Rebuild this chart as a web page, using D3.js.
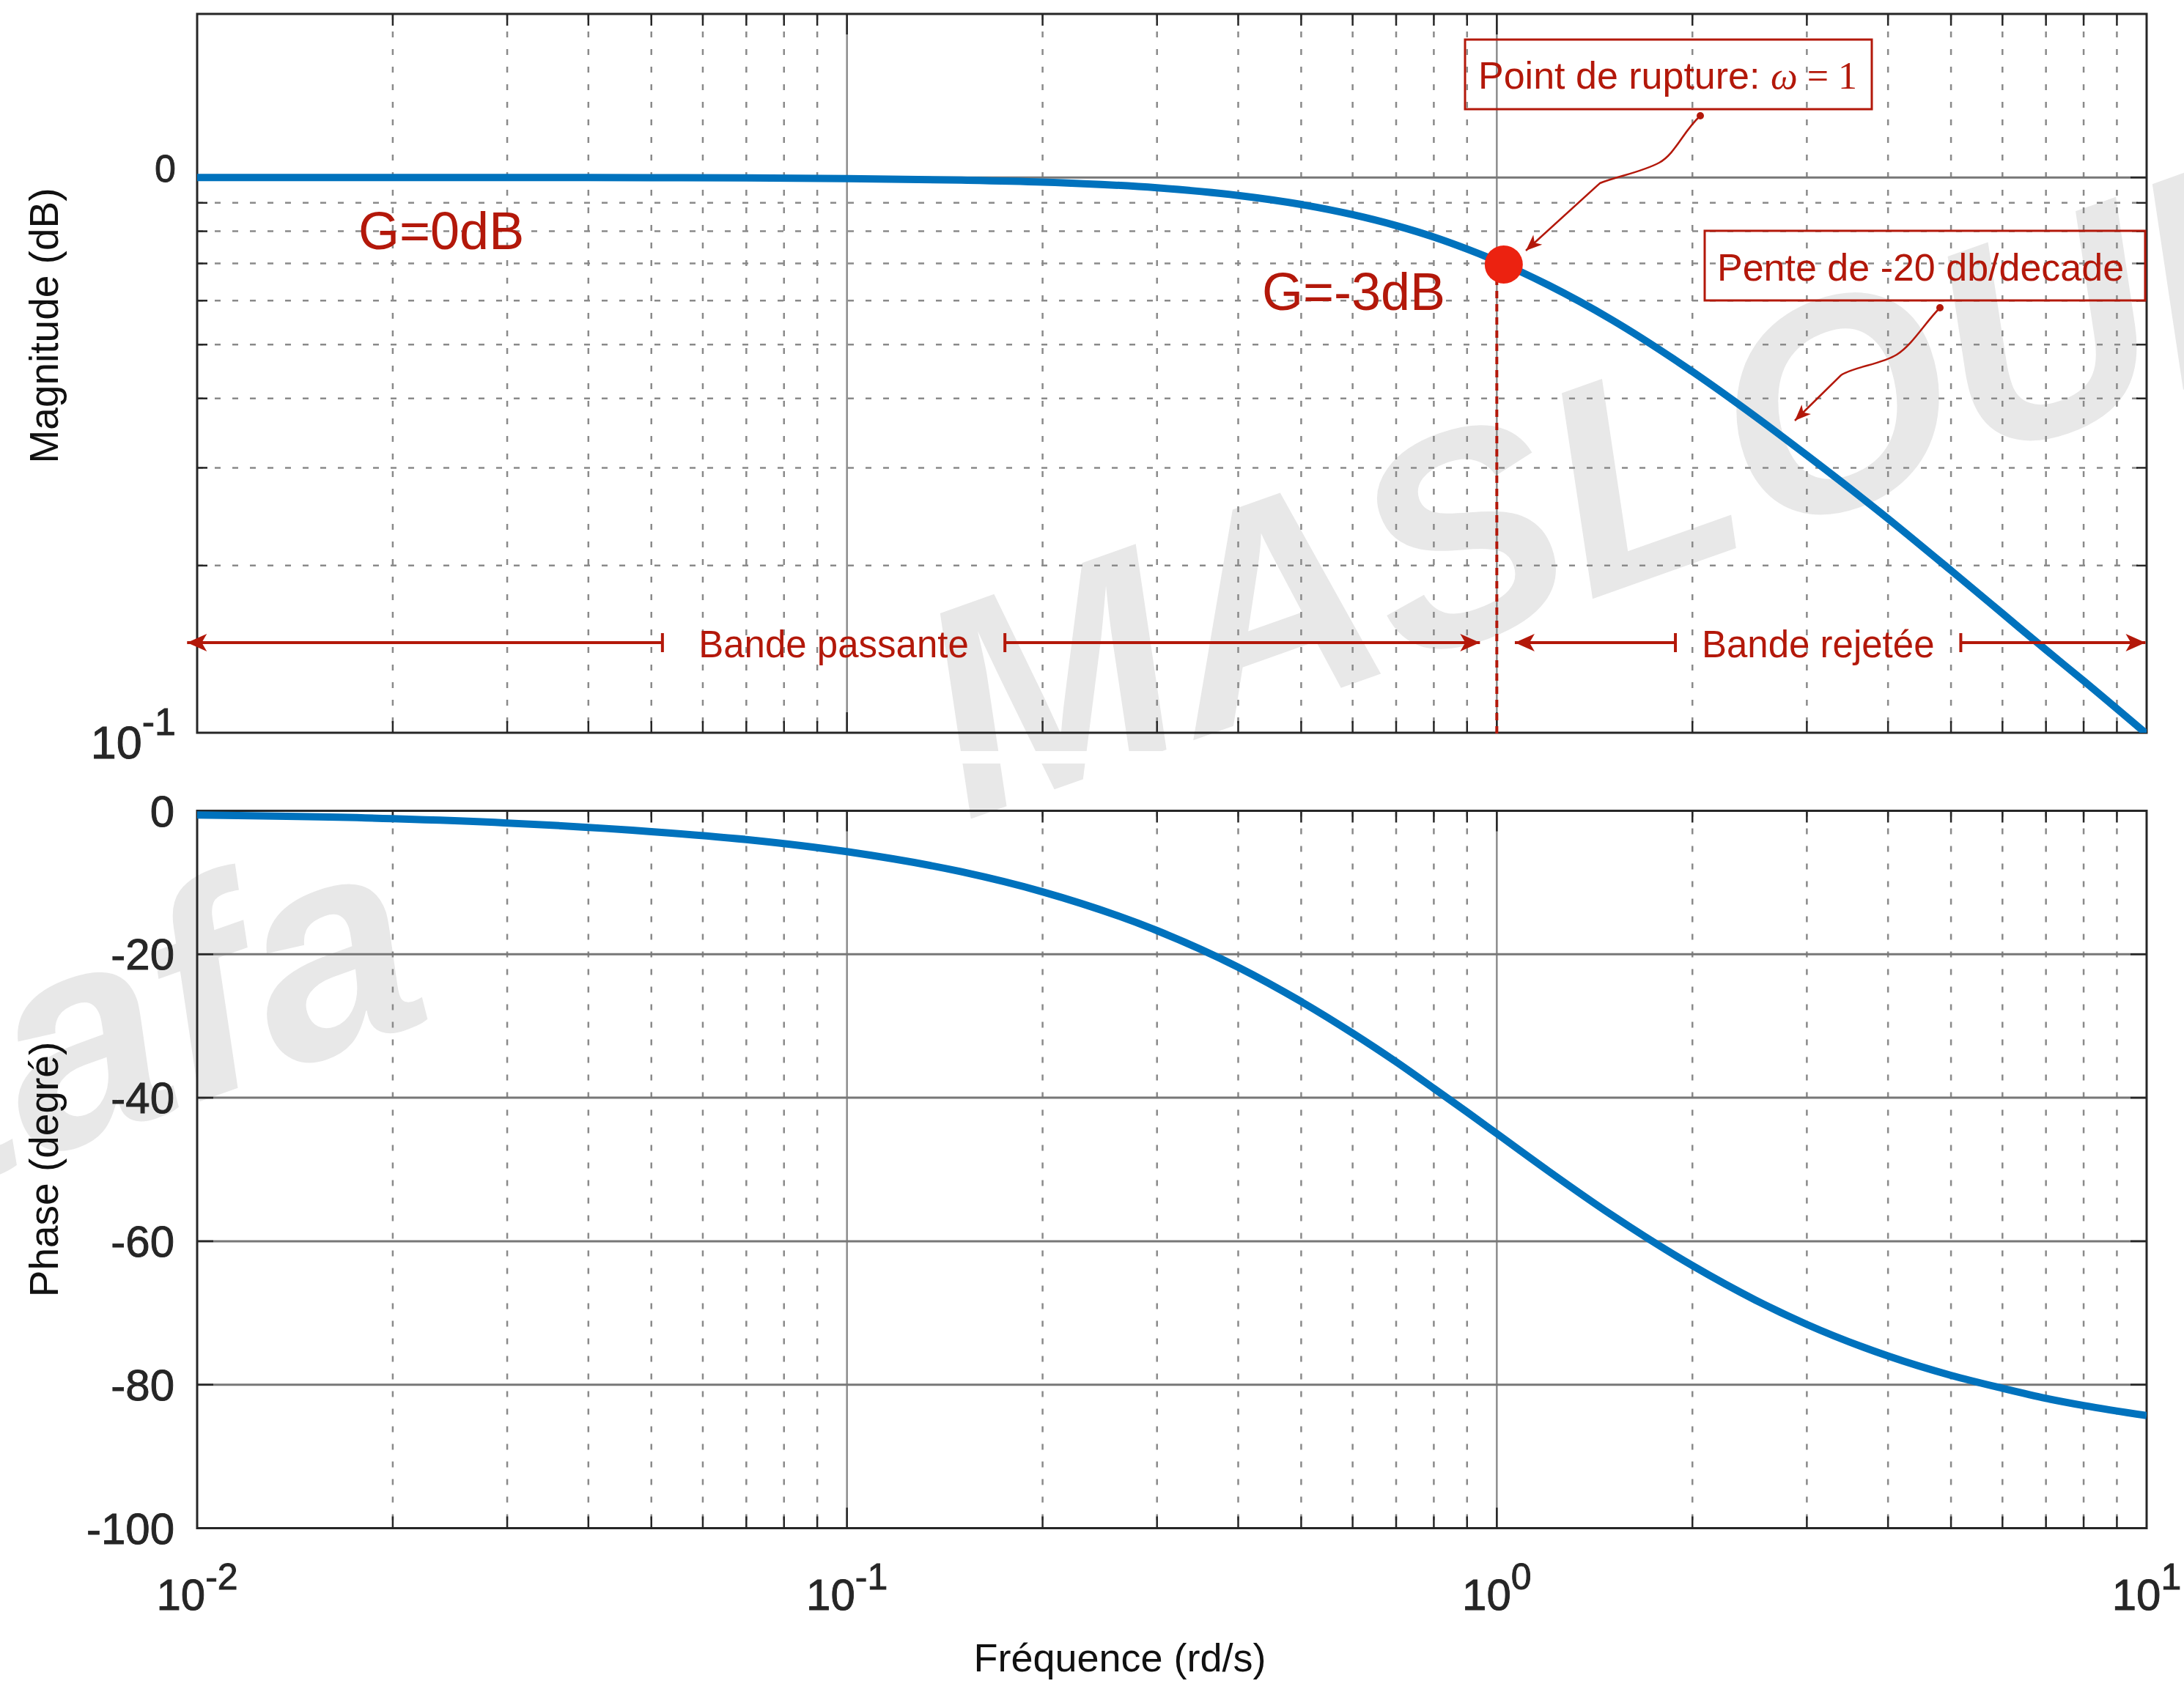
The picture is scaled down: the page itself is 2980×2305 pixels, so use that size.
<!DOCTYPE html>
<html>
<head>
<meta charset="utf-8">
<script src="https://cdn.jsdelivr.net/npm/d3@7"></script>
<style>
  html, body { margin: 0; padding: 0; background: #fff; }
  svg { display: block; }
</style>
</head>
<body>
<script>
'use strict';

// frequencies where the curves were read (rd/s)
const freq = [0.01, 0.02, 0.03, 0.05, 0.07, 0.1, 0.15, 0.2, 0.3, 0.4, 0.5, 0.6, 0.7, 0.8, 0.9,
  1, 1.2, 1.5, 2, 2.5, 3, 4, 5, 6, 7, 8, 10];
// magnitude read on the log axis of the top plot
const magnitude = [1.0, 1.0, 1.0, 0.999, 0.998, 0.995, 0.989, 0.981, 0.958, 0.928, 0.894, 0.857, 0.819, 0.781, 0.743,
  0.707, 0.640, 0.555, 0.447, 0.371, 0.316, 0.243, 0.196, 0.164, 0.141, 0.124, 0.0995];
// phase in degrees (bottom plot)
const phase = [-0.6, -1.1, -1.7, -2.9, -4.0, -5.7, -8.5, -11.3, -16.7, -21.8, -26.6, -31.0, -35.0, -38.7, -42.0,
  -45.0, -50.2, -56.3, -63.4, -68.2, -71.6, -76.0, -78.7, -80.5, -81.9, -82.9, -84.3];

const xTickValues = [0.01, 0.1, 1, 10];
const xTickExponents = ["-2", "-1", "0", "1"];
const magTickValues = [1, 0.1];
const magTickBase = ["0", "10"];
const magTickExponents = ["", "-1"];
const phaseTickValues = [0, -20, -40, -60, -80, -100];

// break point (dot) and the two bands, in frequency units
const breakPoint = { f: 1.025, mag: 0.697 };
const bandMag = 0.1453;
const bandPass = [0.00965, 0.052, 0.175, 0.942];
const bandReject = [1.066, 1.883, 5.176, 9.96];

const W = 2980, H = 2305;
const red = "#b3180a";
const blue = "#0072bd";
const axisColor = "#262626";

const plotLeft = 269, plotRight = 2929;
const magTop = 19, magBottom = 1000;
const phTop = 1106.5, phBottom = 2085.5;

const svg = d3.select('body').append('svg')
  .attr('width', W)
  .attr('height', H)
  .style('font-family', '"Liberation Sans", Arial, Helvetica, sans-serif');

svg.append('rect').attr('width', W).attr('height', H).attr('fill', '#fff');

// scales
const x = d3.scaleLog().domain([0.01, 10]).range([plotLeft, plotRight]);
const yMag = d3.scaleLog().domain([0.1, 1.97]).range([magBottom, magTop]);
const yPh = d3.scaleLinear().domain([-100, 0]).range([phBottom, phTop]);

// arrow markers
const defs = svg.append('defs');
defs.append('marker')
  .attr('id', 'bandHead')
  .attr('markerUnits', 'userSpaceOnUse')
  .attr('viewBox', '-30 -15 32 30')
  .attr('refX', 0).attr('refY', 0)
  .attr('markerWidth', 32).attr('markerHeight', 30)
  .attr('orient', 'auto')
  .append('path')
  .attr('d', 'M0,0 L-27,-12 L-20,0 L-27,12 Z')
  .attr('fill', red);
defs.append('marker')
  .attr('id', 'calloutHead')
  .attr('markerUnits', 'userSpaceOnUse')
  .attr('viewBox', '-26 -12 28 24')
  .attr('refX', 0).attr('refY', 0)
  .attr('markerWidth', 28).attr('markerHeight', 24)
  .attr('orient', 'auto')
  .append('path')
  .attr('d', 'M0,0 L-22,-9 L-16,0 L-22,9 Z')
  .attr('fill', red);

['magClip', 'phClip'].forEach((id, i) => {
  defs.append('clipPath').attr('id', id)
    .append('rect')
    .attr('x', plotLeft).attr('width', plotRight - plotLeft)
    .attr('y', i === 0 ? magTop : phTop)
    .attr('height', i === 0 ? magBottom - magTop : phBottom - phTop);
});

// watermark, under everything else
const wm = svg.append('g')
  .attr('fill', '#e8e8e8')
  .style('font-weight', 'bold')
  .style('font-style', 'italic')
  .style('font-size', '405px');
wm.append('text')
  .attr('transform', 'translate(1318,1120) rotate(-19.5)')
  .text('MASLOUI');
wm.append('text')
  .attr('transform', 'translate(598,1388) rotate(-19.5)')
  .attr('text-anchor', 'end')
  .text('Mustafa');
// thin white cut between the two axes
svg.append('rect').attr('x', 0).attr('y', 1025).attr('width', W).attr('height', 17).attr('fill', '#fff');

function isDecade(v) {
  return Math.abs(Math.log10(v) - Math.round(Math.log10(v))) < 1e-6;
}

// grid, box and ticks for one axes
function drawFrame(top, bottom, yScale, yGrid, logY) {
  const g = svg.append('g');
  const xt = x.ticks().filter(v => v > 0.0100001 && v < 9.99999);

  // vertical grid
  xt.forEach(v => {
    const major = isDecade(v);
    g.append('line')
      .attr('x1', x(v)).attr('x2', x(v))
      .attr('y1', top).attr('y2', bottom)
      .attr('stroke', major ? '#8c8c8c' : '#8a8a8a')
      .attr('stroke-width', 2.5)
      .attr('stroke-dasharray', major ? null : '8,16');
  });

  // horizontal grid
  yGrid.forEach(v => {
    const major = logY ? isDecade(v) : true;
    if (yScale(v) <= top + 0.5 || yScale(v) >= bottom - 0.5) return;
    g.append('line')
      .attr('x1', plotLeft).attr('x2', plotRight)
      .attr('y1', yScale(v)).attr('y2', yScale(v))
      .attr('stroke', major ? '#777' : '#8a8a8a')
      .attr('stroke-width', major ? 3 : 2.5)
      .attr('stroke-dasharray', major ? null : '8,16');
  });

  // ticks on the four sides, pointing inward
  xt.forEach(v => {
    const len = isDecade(v) ? 28 : 16;
    [[bottom, bottom - len], [top, top + len]].forEach(p => {
      g.append('line')
        .attr('x1', x(v)).attr('x2', x(v))
        .attr('y1', p[0]).attr('y2', p[1])
        .attr('stroke', axisColor).attr('stroke-width', 2.5);
    });
  });
  yGrid.forEach(v => {
    const yy = yScale(v);
    if (yy <= top + 0.5 || yy >= bottom - 0.5) return;
    const len = (!logY || isDecade(v)) ? 22 : 14;
    [[plotLeft, plotLeft + len], [plotRight, plotRight - len]].forEach(p => {
      g.append('line')
        .attr('x1', p[0]).attr('x2', p[1])
        .attr('y1', yy).attr('y2', yy)
        .attr('stroke', axisColor).attr('stroke-width', 2.5);
    });
  });

  g.append('rect')
    .attr('x', plotLeft).attr('y', top)
    .attr('width', plotRight - plotLeft).attr('height', bottom - top)
    .attr('fill', 'none')
    .attr('stroke', axisColor)
    .attr('stroke-width', 3);
}

drawFrame(magTop, magBottom, yMag, yMag.ticks(), true);
drawFrame(phTop, phBottom, yPh, phaseTickValues, false);

const rows = freq.map((f, i) => ({ f: f, mag: magnitude[i], ph: phase[i] }));

// red dashed line at the break point
svg.append('line')
  .attr('x1', x(1)).attr('x2', x(1))
  .attr('y1', yMag(breakPoint.mag)).attr('y2', yMag(0.0985))
  .attr('stroke', red)
  .attr('stroke-width', 4)
  .attr('stroke-dasharray', '10,8');

// curves
svg.append('path')
  .datum(rows)
  .attr('clip-path', 'url(#magClip)')
  .attr('fill', 'none')
  .attr('stroke', blue)
  .attr('stroke-width', 10)
  .attr('d', d3.line().x(d => x(d.f)).y(d => yMag(d.mag)).curve(d3.curveMonotoneX));

svg.append('path')
  .datum(rows)
  .attr('clip-path', 'url(#phClip)')
  .attr('fill', 'none')
  .attr('stroke', blue)
  .attr('stroke-width', 10)
  .attr('d', d3.line().x(d => x(d.f)).y(d => yPh(d.ph)).curve(d3.curveMonotoneX));

// break point dot
svg.append('circle')
  .attr('cx', x(breakPoint.f))
  .attr('cy', yMag(breakPoint.mag))
  .attr('r', 26)
  .attr('fill', '#ec2210');

// tick labels (slightly heavier, like the original)
const tickText = svg.append('g')
  .attr('fill', axisColor)
  .attr('stroke', axisColor)
  .attr('stroke-width', 0.9);

xTickValues.forEach((v, i) => {
  const t = tickText.append('text')
    .attr('x', x(v)).attr('y', 2197)
    .attr('text-anchor', 'middle')
    .style('font-size', '60px');
  t.append('tspan').text('10');
  t.append('tspan').attr('dy', -28).style('font-size', '50px').text(xTickExponents[i]);
});

magTickValues.forEach((v, i) => {
  const t = tickText.append('text')
    .attr('x', 240)
    .attr('y', i === 0 ? yMag(v) + 6 : yMag(v) + 35)
    .attr('text-anchor', 'end')
    .style('font-size', i === 0 ? '52px' : '63px');
  t.append('tspan').text(magTickBase[i]);
  if (magTickExponents[i]) {
    t.append('tspan').attr('dy', -32).style('font-size', '52px').text(magTickExponents[i]);
  }
});

phaseTickValues.forEach(v => {
  tickText.append('text')
    .attr('x', 238).attr('y', yPh(v) + 21)
    .attr('text-anchor', 'end')
    .style('font-size', '60px')
    .text(v);
});

// axis titles
const titles = svg.append('g').attr('fill', '#111').style('font-size', '55px');
titles.append('text')
  .attr('transform', 'translate(79,' + ((magTop + magBottom) / 2 - 65) + ') rotate(-90)')
  .attr('text-anchor', 'middle')
  .text('Magnitude (dB)');
titles.append('text')
  .attr('transform', 'translate(79,' + ((phTop + phBottom) / 2) + ') rotate(-90)')
  .attr('text-anchor', 'middle')
  .text('Phase (degré)');
titles.append('text')
  .attr('x', (plotLeft + plotRight) / 2 - 71).attr('y', 2281)
  .attr('text-anchor', 'middle')
  .style('font-size', '54px')
  .text('Fréquence (rd/s)');

// annotations
const ann = svg.append('g').attr('fill', red);

ann.append('text').attr('x', 489).attr('y', 340).style('font-size', '72px').text('G=0dB');
ann.append('text').attr('x', 1722).attr('y', 423).style('font-size', '72px').text('G=-3dB');

// callout boxes
ann.append('rect')
  .attr('x', 1999).attr('y', 54).attr('width', 555).attr('height', 95)
  .attr('fill', 'none').attr('stroke', red).attr('stroke-width', 3);
const t1 = ann.append('text').attr('x', 2017).attr('y', 121).style('font-size', '52px');
t1.append('tspan').text('Point de rupture: ');
t1.append('tspan').style('font-family', '"Liberation Serif", "DejaVu Serif", serif')
  .style('font-style', 'italic').text('ω');
t1.append('tspan').style('font-family', '"Liberation Serif", "DejaVu Serif", serif')
  .text(' = 1');

ann.append('rect')
  .attr('x', 2326).attr('y', 315).attr('width', 601).attr('height', 95)
  .attr('fill', 'none').attr('stroke', red).attr('stroke-width', 3);
ann.append('text').attr('x', 2343).attr('y', 383).style('font-size', '52px')
  .text('Pente de -20 db/decade');

// callout arrows
ann.append('path')
  .attr('d', 'M2320,158 C2296,180 2286,210 2264,222 C2240,235 2205,241 2183,250 L2082,342')
  .attr('fill', 'none').attr('stroke', red).attr('stroke-width', 2.5)
  .attr('marker-end', 'url(#calloutHead)');
ann.append('circle').attr('cx', 2320).attr('cy', 158).attr('r', 5);

ann.append('path')
  .attr('d', 'M2647,420 C2626,441 2610,470 2588,484 C2565,498 2530,500 2512,512 L2449,574')
  .attr('fill', 'none').attr('stroke', red).attr('stroke-width', 2.5)
  .attr('marker-end', 'url(#calloutHead)');
ann.append('circle').attr('cx', 2647).attr('cy', 420).attr('r', 5);

// band arrows
function bandArrow(b, label) {
  const yy = yMag(bandMag);
  const g = ann.append('g');
  // left part: bar to left tip
  g.append('line')
    .attr('x1', x(b[1])).attr('x2', x(b[0]))
    .attr('y1', yy).attr('y2', yy)
    .attr('stroke', red).attr('stroke-width', 4)
    .attr('marker-end', 'url(#bandHead)');
  // right part: bar to right tip
  g.append('line')
    .attr('x1', x(b[2])).attr('x2', x(b[3]))
    .attr('y1', yy).attr('y2', yy)
    .attr('stroke', red).attr('stroke-width', 4)
    .attr('marker-end', 'url(#bandHead)');
  [b[1], b[2]].forEach(v => {
    g.append('line')
      .attr('x1', x(v)).attr('x2', x(v))
      .attr('y1', yy - 13).attr('y2', yy + 13)
      .attr('stroke', red).attr('stroke-width', 4);
  });
  g.append('text')
    .attr('x', (x(b[1]) + x(b[2])) / 2)
    .attr('y', yy + 20)
    .attr('text-anchor', 'middle')
    .style('font-size', '51px')
    .text(label);
}
bandArrow(bandPass, 'Bande passante');
bandArrow(bandReject, 'Bande rejetée');
</script>
</body>
</html>
